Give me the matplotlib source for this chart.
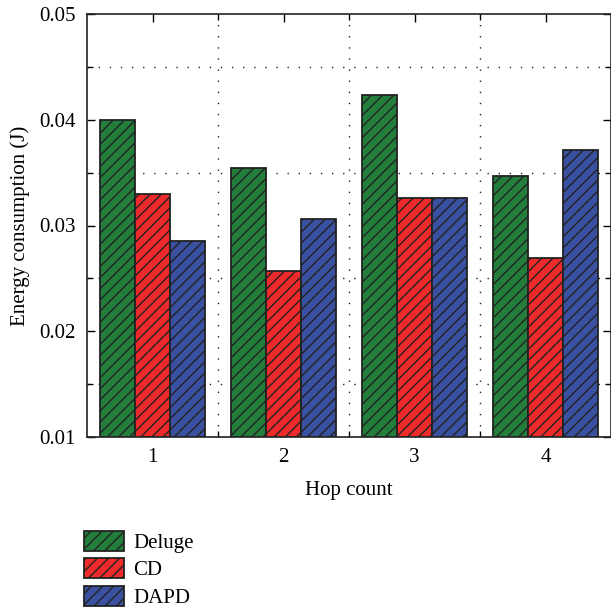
import matplotlib
matplotlib.use("Agg")
import matplotlib.pyplot as plt
import numpy as np

plt.rcParams['font.family'] = ['Liberation Serif', 'DejaVu Serif']
plt.rcParams['hatch.linewidth'] = 1.0

hops = [1, 2, 3, 4]
series = ["Deluge", "CD", "DAPD"]
deluge = [0.0400, 0.0354, 0.0423, 0.0347]
cd = [0.0330, 0.0257, 0.0326, 0.0269]
dapd = [0.0285, 0.0306, 0.0326, 0.0371]
colors = ["#237e3c", "#ee2a2a", "#3a50a0"]

fig = plt.figure(figsize=(6.11, 6.12), dpi=100)
ax = fig.add_axes([87/611, 1 - 437/612, (611 - 87)/611, (437 - 14)/612])

x = np.array(hops, dtype=float)
w = 0.267
for i, (vals, name, c) in enumerate(zip([deluge, cd, dapd], series, colors)):
    ax.bar(x + (i - 1) * w, np.array(vals) - 0.01, width=w, bottom=0.01,
           color=c, edgecolor="#222222", linewidth=1.3, hatch="///", label=name, zorder=3)

ax.set_xlim(0.5, 4.5)
ax.set_ylim(0.01, 0.05)
ax.set_xticks(hops)
ax.set_xticks([1.5, 2.5, 3.5], minor=True)
ax.set_yticks([0.01, 0.02, 0.03, 0.04, 0.05])
ax.set_yticklabels(["0.01", "0.02", "0.03", "0.04", "0.05"])
ax.set_yticks([0.015, 0.025, 0.035, 0.045], minor=True)
ax.tick_params(which="both", direction="in", top=True, right=True, labelsize=15)
ax.tick_params(which="major", length=6, width=1)
ax.tick_params(which="minor", length=4, width=1)
ax.tick_params(axis="x", pad=8)
ax.tick_params(axis="y", pad=8)
ax.grid(which="minor", linestyle=(0, (1, 7)), color="#222222", linewidth=1.0, zorder=0)
for s in ax.spines.values():
    s.set_linewidth(1.2)
    s.set_color("#222222")

ax.set_xlabel("Hop count", fontsize=15, labelpad=10)
ax.set_ylabel("Energy consumption (J)", fontsize=15, labelpad=7)

handles, labels = ax.get_legend_handles_labels()
fig.legend(handles, labels, loc="upper left", bbox_to_anchor=(84/611, 1 - 531/612),
           frameon=False, fontsize=15, handlelength=1.9, handleheight=1.1,
           labelspacing=0.25, handletextpad=0.45, borderpad=0, borderaxespad=0)

fig.savefig("out.png", dpi=100)
